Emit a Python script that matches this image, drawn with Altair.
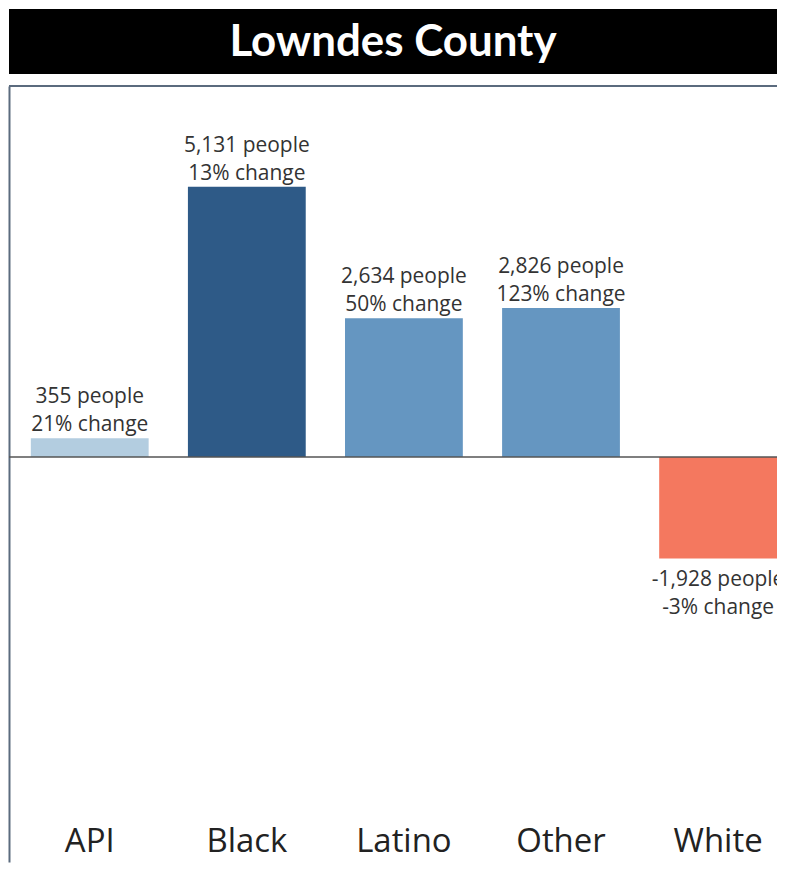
import altair as alt
import pandas as pd

title_text = "Lowndes County"
categories = ["API", "Black", "Latino", "Other", "White"]
people = [355, 5131, 2634, 2826, -1928]
pct_change = [21, 13, 50, 123, -3]
bar_colors = ["#b3cde0", "#2e5a87", "#6596c1", "#6596c1", "#f4785f"]

df = pd.DataFrame({"cat": categories, "people": people, "pct": pct_change, "color": bar_colors})
df["label"] = [f"{p:,} people\n{c}% change" for p, c in zip(people, pct_change)]

W = 770
H = 778
TITLE_H = 65
YMIN, YMAX = -7687, 7043
BORDER = "#5b6b7e"

x_enc = alt.X(
    "cat:N",
    sort=categories,
    scale=alt.Scale(paddingInner=0.25, paddingOuter=0.0695, align=1),
    axis=alt.Axis(
        title=None, orient="bottom", labelAngle=0, labelFont="Open Sans",
        labelFontSize=33, labelColor="#222222", ticks=False, domain=False,
        labelPadding=0, labelBaseline="alphabetic", offset=-10,
    ),
)
y_enc = alt.Y(
    "people:Q",
    scale=alt.Scale(domain=[YMIN, YMAX], nice=False, zero=False),
    axis=alt.Axis(title=None, labels=False, ticks=False, grid=False, domain=True,
                  domainColor=BORDER, domainWidth=2),
)

base = alt.Chart(df)
bars = base.mark_bar().encode(x=x_enc, y=y_enc, color=alt.Color("color:N", scale=None))

pos_text = base.transform_filter(alt.datum.people >= 0).mark_text(
    baseline="bottom", dy=-31, lineBreak="\n", lineHeight=28,
    font="Open Sans", fontSize=21, color="#333333", clip=True,
).encode(x=alt.X("cat:N", sort=categories), y="people:Q", text="label:N")

neg_text = base.transform_filter(alt.datum.people < 0).mark_text(
    baseline="top", dy=11, lineBreak="\n", lineHeight=28,
    font="Open Sans", fontSize=21, color="#333333", clip=True,
).encode(x=alt.X("cat:N", sort=categories), y="people:Q", text="label:N")

rule_df = pd.DataFrame({"v": [0]})
zero_rule = alt.Chart(rule_df).mark_rule(color="#555555", strokeWidth=1.5).encode(y=alt.datum(0))
top_rule = alt.Chart(rule_df).mark_rule(color=BORDER, strokeWidth=2).encode(y=alt.datum(YMAX))

main = alt.layer(bars, zero_rule, top_rule, pos_text, neg_text).properties(
    width=W, height=H, view=alt.ViewBackground(stroke="transparent", strokeWidth=0)
)

title = alt.Chart(pd.DataFrame({"t": [title_text]})).mark_text(
    font="Lato", fontWeight="bold", fontSize=44,
    color="white", baseline="middle", align="center",
).encode(text="t:N", x=alt.value(W / 2), y=alt.value(TITLE_H / 2 + 2)).properties(
    width=W, height=TITLE_H, view=alt.ViewBackground(fill="black", stroke="transparent", strokeWidth=0)
)

chart = alt.vconcat(title, main, spacing=11).properties(padding=0).configure_view(
    stroke="transparent", strokeWidth=0
).configure(background="white")

chart.save("out.html", embed_options={"renderer": "svg", "actions": False})
